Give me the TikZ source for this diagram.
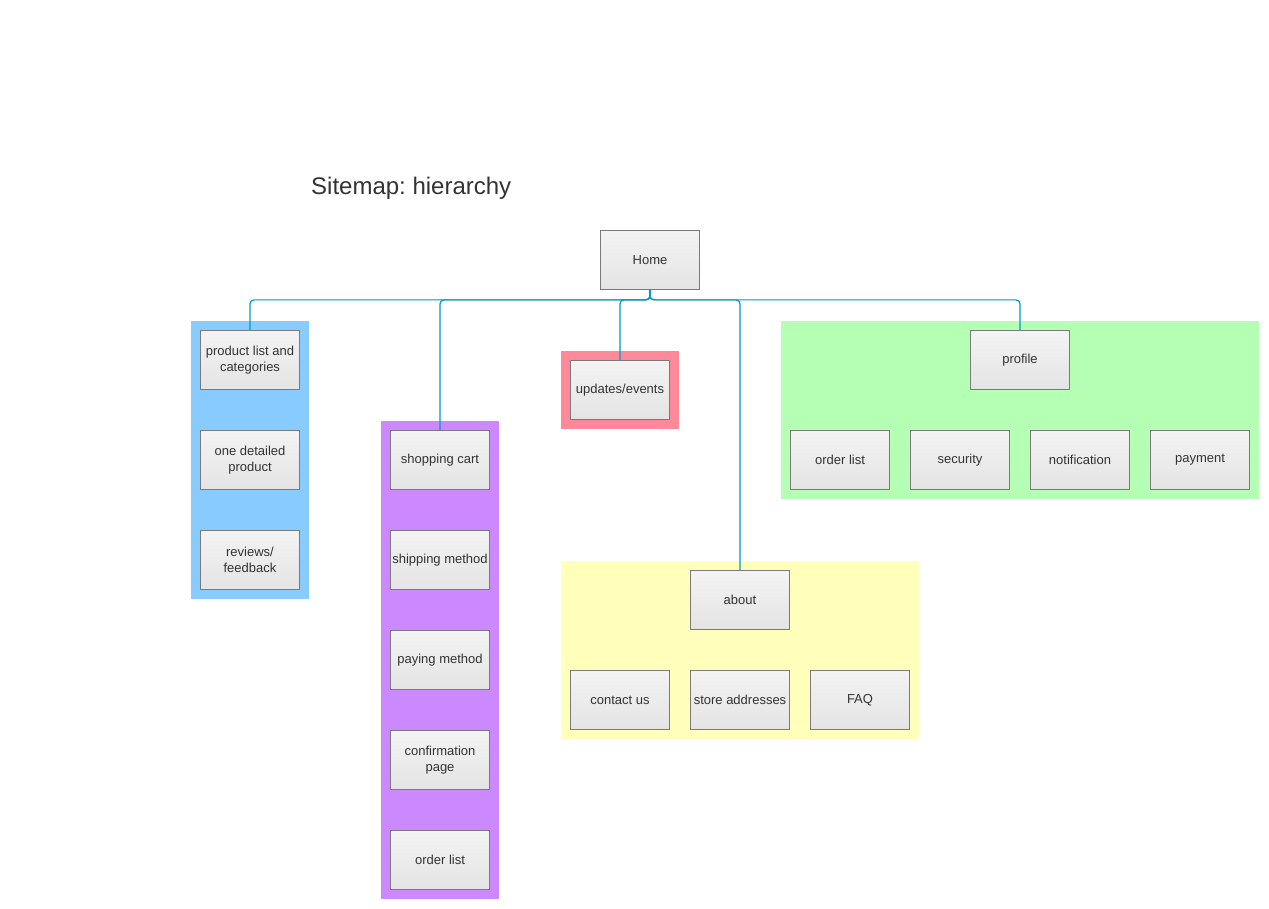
\documentclass[tikz,border=0pt]{standalone}
\usepackage{fontspec}
\setmainfont{Liberation Sans}
\frenchspacing
\definecolor{boxtop}{HTML}{F3F3F3}
\definecolor{boxbot}{HTML}{E4E4E4}
\definecolor{boxline}{HTML}{7A7A7A}
\definecolor{txt}{HTML}{333333}
\definecolor{conn}{HTML}{0099CC}
\definecolor{bgblue}{HTML}{88CCFF}
\definecolor{bgpurple}{HTML}{CC88FF}
\definecolor{bgpink}{HTML}{FF8899}
\definecolor{bggreen}{HTML}{B5FFB5}
\definecolor{bgyellow}{HTML}{FFFFBB}
\begin{document}
\begin{tikzpicture}[x=1pt,y=-1pt,
  page/.style={draw=boxline, line width=0.8pt, top color=boxtop, bottom color=boxbot,
    minimum width=99pt, minimum height=59pt, inner sep=0pt, text=txt,
    align=center, font=\fontsize{13}{16}\selectfont},
  link/.style={draw=conn, line width=1.2pt, rounded corners=4pt}]
\useasboundingbox (0,0) rectangle (1269,909);
\fill[white] (0,0) rectangle (1269,909);
% background zones
\fill[bgblue] (191,321) rectangle (309,599);
\fill[bgpurple] (381,421) rectangle (499,899);
\fill[bgpink] (561,351) rectangle (679,429);
\fill[bggreen] (781,321) rectangle (1259,499);
\fill[bgyellow] (561,561) rectangle (919,739);
% title
\node[anchor=base west, inner sep=0pt, text=txt, font=\fontsize{24}{28}\selectfont] (title) at (311,195) {Sitemap: hierarchy};
% nodes
\node[page] (home) at (650,260) {Home};
\node[page] (plist) at (250,360) {product list and\\categories};
\node[page] (detail) at (250,460) {one detailed\\product};
\node[page] (reviews) at (250,560) {reviews/\\feedback};
\node[page] (cart) at (440,460) {shopping cart};
\node[page] (ship) at (440,560) {shipping method};
\node[page] (pay) at (440,660) {paying method};
\node[page] (confirm) at (440,760) {confirmation\\page};
\node[page] (olist1) at (440,860) {order list};
\node[page] (updates) at (620,390) {updates/events};
\node[page] (profile) at (1020,360) {profile};
\node[page] (olist2) at (840,460) {order list};
\node[page] (security) at (960,460) {security};
\node[page] (notif) at (1080,460) {notification};
\node[page] (payment) at (1200,460) {payment};
\node[page] (about) at (740,600) {about};
\node[page] (contact) at (620,700) {contact us};
\node[page] (stores) at (740,700) {store addresses};
\node[page] (faq) at (860,700) {FAQ};
% connectors
\foreach \c in {plist,cart,updates,about,profile}{
  \draw[link] (home.south) -- ++(0,10) -| (\c.north);
}
\end{tikzpicture}
\end{document}
